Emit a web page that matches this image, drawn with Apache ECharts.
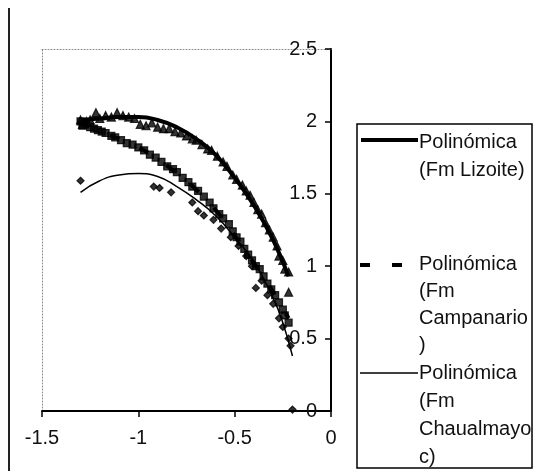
<!DOCTYPE html>
<html>
<head>
<meta charset="utf-8">
<script src="https://cdn.jsdelivr.net/npm/echarts@6/dist/echarts.min.js"></script>
<style>
  html, body { margin: 0; padding: 0; background: #fff; }
  #chart { width: 533px; height: 475px; }
</style>
</head>
<body>
<div id="chart"></div>
<script>
// measured points, Fm Lizoite (triangles)
var lizoiteX = [-1.30,-1.29,-1.27,-1.25,-1.22,-1.20,-1.17,-1.14,-1.11,-1.08,-1.05,-1.02,-0.99,-0.96,-0.93,-0.90,-0.87,-0.84,-0.81,-0.78,-0.75,-0.72,-0.70,-0.67,-0.64,-0.62,-0.59,-0.56,-0.54,-0.51,-0.49,-0.46,-0.44,-0.42,-0.40,-0.38,-0.36,-0.34,-0.32,-0.30,-0.28,-0.27,-0.25,-0.24,-0.22,-0.22];
var lizoiteY = [2.01,1.98,2.00,2.01,2.06,2.02,2.04,2.03,2.06,2.04,2.03,2.02,1.98,1.97,1.99,1.96,1.95,1.95,1.93,1.92,1.90,1.88,1.87,1.84,1.81,1.80,1.76,1.72,1.69,1.63,1.60,1.56,1.52,1.49,1.44,1.39,1.36,1.30,1.25,1.20,1.14,1.07,1.04,0.98,0.96,0.82];

// Fm Campanario (squares)
var campanarioX = [-1.30,-1.29,-1.27,-1.25,-1.23,-1.21,-1.19,-1.17,-1.14,-1.12,-1.09,-1.06,-1.03,-1.00,-0.97,-0.94,-0.91,-0.88,-0.85,-0.82,-0.80,-0.77,-0.74,-0.72,-0.69,-0.66,-0.63,-0.61,-0.58,-0.56,-0.53,-0.51,-0.49,-0.47,-0.45,-0.43,-0.41,-0.39,-0.37,-0.35,-0.33,-0.31,-0.29,-0.27,-0.25,-0.24,-0.22];
var campanarioY = [2.00,1.97,1.99,1.96,1.95,1.94,1.93,1.92,1.90,1.89,1.87,1.85,1.84,1.82,1.80,1.77,1.75,1.72,1.69,1.67,1.65,1.61,1.58,1.55,1.52,1.48,1.44,1.40,1.36,1.33,1.29,1.24,1.20,1.17,1.12,1.08,1.04,1.00,0.98,0.93,0.88,0.84,0.80,0.75,0.70,0.66,0.61];

// Fm Chaualmayoc (diamonds)
var chaualX = [-1.30,-0.92,-0.89,-0.83,-0.72,-0.69,-0.66,-0.61,-0.57,-0.52,-0.48,-0.44,-0.41,-0.39,-0.36,-0.33,-0.30,-0.27,-0.25,-0.22,-0.21,-0.20];
var chaualY = [1.59,1.55,1.54,1.51,1.44,1.38,1.35,1.32,1.26,1.20,1.14,1.07,1.00,0.85,0.90,0.80,0.74,0.64,0.58,0.50,0.45,0.01];

// polynomial trend lines
var fitLizX = [-1.30,-1.20,-1.10,-1.00,-0.90,-0.80,-0.70,-0.60,-0.50,-0.40,-0.30,-0.22];
var fitLizY = [2.01,2.02,2.03,2.03,2.01,1.96,1.88,1.77,1.61,1.42,1.18,0.93];
var fitCamX = [-1.30,-1.20,-1.10,-1.00,-0.90,-0.80,-0.70,-0.60,-0.50,-0.40,-0.30,-0.22];
var fitCamY = [1.99,1.93,1.88,1.82,1.74,1.64,1.53,1.39,1.21,1.02,0.82,0.64];
var fitChaX = [-1.30,-1.20,-1.10,-1.00,-0.90,-0.80,-0.70,-0.60,-0.50,-0.40,-0.30,-0.25,-0.20];
var fitChaY = [1.51,1.59,1.63,1.64,1.62,1.55,1.46,1.35,1.20,1.03,0.78,0.61,0.38];

var legendNames = ['Polinómica\n(Fm Lizoite)', 'Polinómica\n(Fm\nCampanario\n)', 'Polinómica\n(Fm\nChaualmayo\nc)'];

function zip(xs, ys) {
  var out = [];
  for (var i = 0; i < xs.length; i++) out.push([xs[i], ys[i]]);
  return out;
}

var font = "'Liberation Sans', Arial, sans-serif";
var dot = { color: '#000', borderColor: '#000', borderWidth: 1.2 };
var myChart = echarts.init(document.getElementById('chart'));

var option = {
  animation: false,
  backgroundColor: '#fff',
  grid: { left: 42, right: 202, top: 49, bottom: 64 },
  xAxis: [{
    type: 'value', min: -1.5, max: 0, interval: 0.5, position: 'bottom',
    axisLine: { show: true, onZero: false, lineStyle: { color: '#000', width: 2 } },
    axisTick: { show: true, length: 6, lineStyle: { color: '#000', width: 1.5 } },
    axisLabel: { margin: 17, fontSize: 20, color: '#111', fontFamily: font },
    splitLine: { show: false }
  }, {
    type: 'value', min: -1.5, max: 0, position: 'top',
    axisLine: { show: true, onZero: false, lineStyle: { color: '#888', width: 1, type: [1, 2] } },
    axisTick: { show: false }, axisLabel: { show: false }, splitLine: { show: false }
  }],
  yAxis: [{
    type: 'value', min: 0, max: 2.5, interval: 0.5, position: 'right',
    axisLine: { show: true, onZero: false, lineStyle: { color: '#000', width: 2 } },
    axisTick: { show: true, inside: true, length: 6, lineStyle: { color: '#000', width: 1.5 } },
    axisLabel: { inside: true, margin: 14, fontSize: 20, color: '#111', fontFamily: font },
    splitLine: { show: false }
  }, {
    type: 'value', min: 0, max: 2.5, position: 'left',
    axisLine: { show: true, onZero: false, lineStyle: { color: '#888', width: 1, type: [1, 2] } },
    axisTick: { show: false }, axisLabel: { show: false }, splitLine: { show: false }
  }],
  series: [
    { name: legendNames[0], type: 'line', smooth: true, symbol: 'none',
      data: zip(fitLizX, fitLizY), lineStyle: { color: '#000', width: 4 } },
    { name: legendNames[1], type: 'line', smooth: true, symbol: 'none',
      data: zip(fitCamX, fitCamY), lineStyle: { color: '#000', width: 4, type: [10, 22] } },
    { name: legendNames[2], type: 'line', smooth: true, symbol: 'none',
      data: zip(fitChaX, fitChaY), lineStyle: { color: '#000', width: 1.5 } },
    { name: 'Fm Lizoite', type: 'scatter', symbol: 'triangle', symbolSize: 8,
      data: zip(lizoiteX, lizoiteY), itemStyle: dot },
    { name: 'Fm Campanario', type: 'scatter', symbol: 'rect', symbolSize: 7,
      data: zip(campanarioX, campanarioY), itemStyle: dot },
    { name: 'Fm Chaualmayoc', type: 'scatter', symbol: 'diamond', symbolSize: 7,
      data: zip(chaualX, chaualY), itemStyle: dot }
  ],
  graphic: [
    // outer frame edge on the left
    { type: 'line', shape: { x1: 9, y1: 8, x2: 9, y2: 471 }, style: { stroke: '#222', lineWidth: 2 } },
    // legend box
    { type: 'rect', shape: { x: 357, y: 124, width: 175, height: 344 },
      style: { fill: '#fff', stroke: '#000', lineWidth: 1.5 } },
    { type: 'line', shape: { x1: 361, y1: 140, x2: 418, y2: 140 }, style: { stroke: '#000', lineWidth: 4 } },
    { type: 'text', x: 419, y: 128, style: { text: legendNames[0], fontSize: 20, lineHeight: 28,
      fontFamily: font, fill: '#111', verticalAlign: 'top' } },
    { type: 'line', shape: { x1: 360, y1: 265, x2: 402, y2: 265 },
      style: { stroke: '#000', lineWidth: 4, lineDash: [10, 22] } },
    { type: 'text', x: 419, y: 251, style: { text: legendNames[1], fontSize: 20, lineHeight: 27,
      fontFamily: font, fill: '#111', verticalAlign: 'top' } },
    { type: 'line', shape: { x1: 360, y1: 373, x2: 418, y2: 373 }, style: { stroke: '#000', lineWidth: 1.5 } },
    { type: 'text', x: 419, y: 359, style: { text: legendNames[2], fontSize: 20, lineHeight: 28,
      fontFamily: font, fill: '#111', verticalAlign: 'top' } }
  ]
};

myChart.setOption(option);
</script>
</body>
</html>
